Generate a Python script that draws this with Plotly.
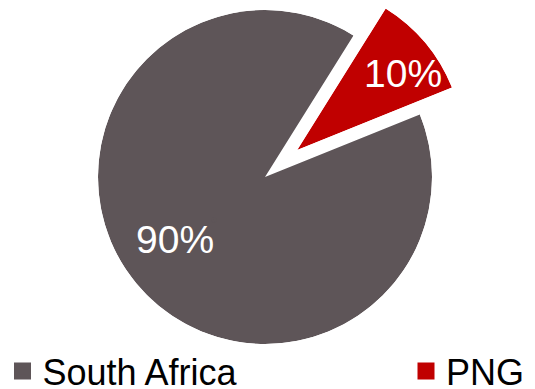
import math
import plotly.graph_objects as go

# ---- data ----
labels = ["PNG", "South Africa"]
values = [10, 90]
colors = ["#C00000", "#5E5558"]

# ---- layout constants (pixels, figure coordinates) ----
W, H = 535, 389
FONT = "Liberation Sans, Arial, sans-serif"
CX, CY, R = 257, 169, 167          # pie centre / radius
ROTATION = 32                       # start of first slice, degrees clockwise from 12 o'clock
PULL_PX = 42                        # explode distance of the PNG slice

total = sum(values)
starts, spans, mids = [], [], []
a = ROTATION
for v in values:
    span = 360.0 * v / total
    starts.append(a)
    spans.append(span)
    mids.append(a + span / 2)
    a += span


def unit(deg):
    t = math.radians(deg)
    return math.sin(t), -math.cos(t)


ux, uy = unit(mids[0])
ex, ey = CX + PULL_PX * ux, CY + PULL_PX * uy      # apex of the exploded slice

# sector (math convention, ccw from east) covered by the exploded slice
sec = [90 - (starts[0] + spans[0]), 90 - starts[0]]
c0, c1 = math.cos(math.radians(sec[0])), math.cos(math.radians(sec[1]))
s0, s1 = math.sin(math.radians(sec[0])), math.sin(math.radians(sec[1]))
bx0, bx1 = min(0, c0, c1), max(0, c0, c1)
by0, by1 = min(0, s0, s1), max(0, s0, s1)

full_domain = dict(x=[(CX - R) / W, (CX + R) / W],
                   y=[1 - (CY + R) / H, 1 - (CY - R) / H])
slice_domain = dict(x=[(ex + R * bx0) / W, (ex + R * bx1) / W],
                    y=[1 - (ey - R * by0) / H, 1 - (ey - R * by1) / H])

hidden_axes = dict(
    bgcolor="rgba(0,0,0,0)",
    angularaxis=dict(visible=False, rotation=90, direction="clockwise",
                     showgrid=False, showline=False, showticklabels=False, ticks=""),
    radialaxis=dict(visible=False, range=[0, 1], showgrid=False, showline=False,
                    showticklabels=False, ticks=""),
)

fig = go.Figure()
# main (unexploded) slice
fig.add_trace(go.Barpolar(theta=[mids[1]], r=[1], width=[spans[1]], name=labels[1],
                          marker=dict(color=colors[1], line=dict(width=0)),
                          subplot="polar", showlegend=False, hoverinfo="name"))
# exploded slice
fig.add_trace(go.Barpolar(theta=[mids[0]], r=[1], width=[spans[0]], name=labels[0],
                          marker=dict(color=colors[0], line=dict(width=0)),
                          subplot="polar2", showlegend=False, hoverinfo="name"))

# legend entries (tiny pies hidden inside the slice of the same colour)
legend_names = ["legend2", "legend"]
for i, lab in enumerate(labels):
    if i == 0:
        px, py = ex + 0.5 * R * ux, ey + 0.5 * R * uy
    else:
        gx, gy = unit(mids[1])
        px, py = CX + 0.4 * R * gx, CY + 0.4 * R * gy
    fx, fy = px / W, 1 - py / H
    fig.add_trace(go.Pie(labels=[lab], values=[values[i]], sort=False,
                         marker=dict(colors=[colors[i]], line=dict(color=colors[i], width=5)),
                         textinfo="none", hoverinfo="skip",
                         domain=dict(x=[fx, fx + 0.0002], y=[fy, fy + 0.0002]),
                         showlegend=True, legend=legend_names[i]))

# percentage labels
label_shift = [4, 5]       # degrees
label_frac = [0.78, 0.655]
centres = [(ex, ey), (CX, CY)]
for i, v in enumerate(values):
    px, py = unit(mids[i] + label_shift[i])
    cx, cy = centres[i]
    x = cx + label_frac[i] * R * px
    y = cy + label_frac[i] * R * py
    fig.add_annotation(x=x / W, y=1 - y / H, xref="paper", yref="paper",
                       text=f"{round(100 * v / total)}%", showarrow=False,
                       font=dict(family=FONT, size=39, color="white"),
                       xanchor="center", yanchor="middle")

LEGEND_TOP = 333
legend_style = dict(orientation="h", yanchor="top", y=1 - LEGEND_TOP / H, xanchor="left",
                    font=dict(family=FONT, size=36, color="black"),
                    bgcolor="rgba(0,0,0,0)", borderwidth=0)

fig.update_layout(
    width=W, height=H,
    margin=dict(l=0, r=0, t=0, b=0, autoexpand=False),
    paper_bgcolor="white", plot_bgcolor="white",
    font=dict(family=FONT, color="black"),
    polar=dict(domain=full_domain, **hidden_axes),
    polar2=dict(domain=slice_domain, sector=sec, **hidden_axes),
    legend=dict(x=-5.5 / W, **legend_style),
    legend2=dict(x=398 / W, **legend_style),
)

fig.write_html("out.html")
